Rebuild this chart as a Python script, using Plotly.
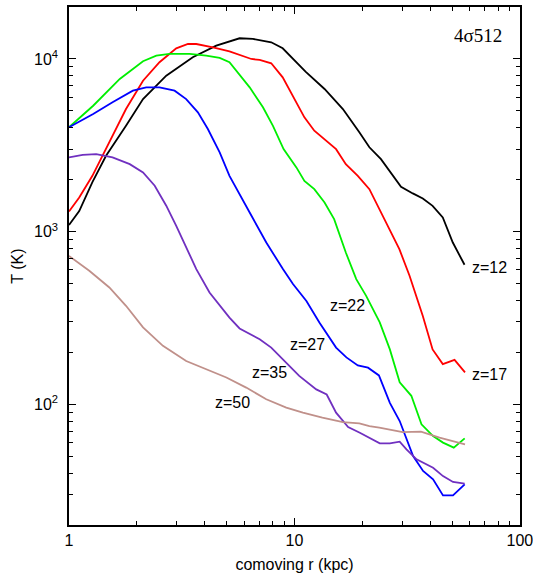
import plotly.graph_objects as go

# z = 12 (black)
r_z12 = [1.0, 1.11, 1.27, 1.46, 1.79, 2.13, 2.70, 3.54, 4.50, 5.71, 6.54, 7.89, 8.87, 10.2, 11.2,
         13.6, 16.4, 19.4, 21.5, 24.2, 29.7, 33.5, 37.1, 41.0, 45.5, 50.4, 56.8]
T_z12 = [1092, 1315, 1936, 2750, 4100, 5860, 8000, 10230, 11940, 13180, 13060, 12500, 11530, 9570, 8440,
         6700, 5130, 3760, 3080, 2630, 1820, 1665, 1557, 1411, 1209, 865, 643]

# z = 17 (red)
r_z17 = [1.0, 1.11, 1.27, 1.51, 1.79, 2.13, 2.52, 2.99, 3.37, 3.67, 4.35, 5.15, 5.81, 6.44, 7.01,
         7.89, 8.87, 10.0, 11.07, 12.25, 13.6, 15.3, 16.9, 19.1, 21.5, 23.8, 26.4, 29.2, 32.4,
         37.1, 41.0, 45.5, 51.3, 57.1]
T_z17 = [1309, 1578, 2105, 3290, 5130, 7480, 9570, 11530, 12210, 12210, 11690, 11080, 10450, 10000, 9870,
         9440, 7830, 5860, 4590, 3840, 3435, 3005, 2460, 2105, 1762, 1349, 1033, 792, 555,
         325, 208, 171, 181, 153]

# z = 22 (green)
r_z22 = [1.0, 1.28, 1.68, 2.13, 2.44, 2.79, 3.43, 4.06, 4.66, 5.15, 6.33, 7.25, 8.03, 8.95, 10.2,
         11.07, 12.25, 13.6, 15.0, 16.9, 18.8, 20.8, 23.9, 26.5, 29.3, 33.0, 36.6, 41.2, 45.6, 50.9, 56.9]
T_z22 = [4020, 5360, 7660, 9700, 10450, 10690, 10690, 10450, 10140, 9570, 6850, 5250, 4100, 3005, 2355,
         1969, 1762, 1475, 1181, 757, 531, 425, 298, 208, 134, 112, 76.6, 65.5, 60.0, 56.1, 63.5]

# z = 27 (blue)
r_z27 = [1.0, 1.28, 1.56, 1.92, 2.20, 2.52, 2.94, 3.31, 3.73, 4.13, 4.66, 5.15, 6.33, 7.50, 8.89,
         9.85, 11.3, 12.9, 15.3, 17.0, 19.1, 21.2, 23.7, 26.5, 29.3, 31.9, 33.6, 37.2, 41.2, 45.6, 50.5, 56.9]
T_z27 = [4020, 4800, 5610, 6550, 6850, 6850, 6550, 5860, 4910, 3930, 2875, 2105, 1291, 865, 607,
         497, 397, 298, 213, 187, 168, 163, 147, 102, 80, 60, 50.2, 41.1, 36.8, 29.7, 29.7, 34.4]

# z = 35 (purple)
r_z35 = [1.0, 1.15, 1.32, 1.56, 1.86, 2.13, 2.40, 2.70, 2.99, 3.31, 3.67, 4.20, 4.66, 5.15, 5.71,
         7.01, 7.89, 9.20, 10.5, 12.5, 13.9, 15.3, 17.3, 19.5, 21.6, 23.9, 26.5, 29.3, 31.4, 34.8,
         41.2, 45.6, 50.5, 56.9]
T_z35 = [2692, 2786, 2812, 2692, 2460, 2203, 1844, 1413, 1081, 810, 607, 444, 372, 318, 275,
         238, 213, 175, 146, 122, 114, 89.5, 73.8, 68.5, 63.5, 59.4, 59.4, 60.8, 54.8, 48.0,
         42.9, 38.4, 35.5, 34.7]

# z = 50 (rosy brown)
r_z50 = [1.0, 1.23, 1.51, 1.79, 2.13, 2.61, 3.31, 4.06, 4.99, 6.11, 7.50, 9.20, 10.9, 13.3, 16.4,
         19.4, 21.5, 23.8, 30.2, 36.4, 44.0, 57.1]
T_z50 = [724, 593, 475, 372, 279, 218, 178, 160, 143, 125, 107, 95.7, 89.5, 83.8, 78.9,
         77.6, 74.8, 73.2, 69.0, 69.5, 64.1, 58.6]

series_names = ["z=12", "z=17", "z=22", "z=27", "z=35", "z=50"]
series_r = [r_z12, r_z17, r_z22, r_z27, r_z35, r_z50]
series_T = [T_z12, T_z17, T_z22, T_z27, T_z35, T_z50]
colors = ["#000000", "#ff0000", "#00ee00", "#0000ff", "#7030c0", "#c0908a"]

# label positions (log10 units on both axes)
label_x = [1.865, 1.865, 1.236, 1.059, 0.890, 0.727]
label_y = [2.792, 2.174, 2.574, 2.348, 2.184, 2.010]

x_tickvals = [1, 10, 100]
x_ticktext = ["1", "10", "100"]
x_minorvals = [m * d for d in (1, 10) for m in range(2, 10)]
y_tickvals = [100, 1000, 10000]
y_ticktext = ["10<sup>2</sup>", "10<sup>3</sup>", "10<sup>4</sup>"]
y_minorvals = [m * d for d in (10, 100, 1000, 10000) for m in range(2, 10)]

FONT = "Liberation Sans, Arial, sans-serif"

fig = go.Figure()
for name, rr, tt, c in zip(series_names, series_r, series_T, colors):
    fig.add_trace(go.Scatter(x=rr, y=tt, mode="lines", name=name,
                             line=dict(color=c, width=1.8), showlegend=False, hoverinfo="skip"))

for name, lx, ly in zip(series_names, label_x, label_y):
    fig.add_annotation(x=lx, y=ly, xref="x", yref="y", text=name, showarrow=False,
                       font=dict(family=FONT, size=16, color="black"))

fig.add_annotation(x=1.813, y=4.135, xref="x", yref="y", text="4σ512", showarrow=False,
                   font=dict(family="Liberation Serif, Times New Roman, serif", size=19, color="black"))

axis_common = dict(
    showline=True, linecolor="black", linewidth=1.5, mirror="allticks",
    ticks="inside", ticklen=7, tickwidth=1.2, tickcolor="black",
    showgrid=False, zeroline=False, automargin=False, ticklabeloverflow="allow",
    tickfont=dict(family=FONT, size=16, color="black"),
)

fig.update_xaxes(type="log", range=[0, 2.0005], tickmode="array",
                 tickvals=x_tickvals, ticktext=x_ticktext,
                 minor=dict(tickmode="array", tickvals=x_minorvals, ticks="inside", ticklen=4,
                            tickwidth=1.2, tickcolor="black", showgrid=False),
                 title=dict(text="comoving r (kpc)", font=dict(family=FONT, size=16, color="black"), standoff=11),
                 **axis_common)
fig.update_yaxes(type="log", range=[1.30103, 4.30103], tickmode="array",
                 tickvals=y_tickvals, ticktext=y_ticktext,
                 minor=dict(tickmode="array", tickvals=y_minorvals, ticks="inside", ticklen=4,
                            tickwidth=1.2, tickcolor="black", showgrid=False),
                 title=dict(text="T (K)", font=dict(family=FONT, size=16, color="black"), standoff=6),
                 ticklabelstandoff=6,
                 **axis_common)

fig.update_layout(width=533, height=579, margin=dict(l=69, r=13, t=7, b=54),
                  plot_bgcolor="white", paper_bgcolor="white",
                  font=dict(family=FONT, size=16, color="black"))

fig.write_html("out.html", config={"displayModeBar": False},
               post_script="document.body.style.margin='0';document.body.style.padding='0';")
